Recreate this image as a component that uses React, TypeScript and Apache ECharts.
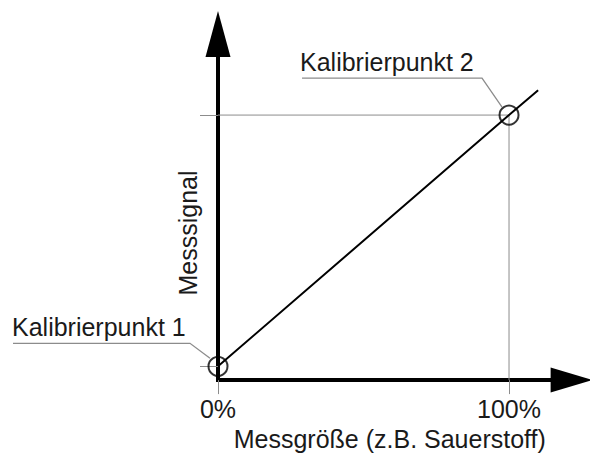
import React, { useEffect, useRef } from 'react';
import * as echarts from 'echarts';

// ---- data ----
const xTickValues = [0, 100];
const xTickSuffix = '%';
const xRange = [0, 121.5];
const yRange = [0, 125.4];
const calX = [0, 100];
const calY = [5, 96];
const calLabels = ['Kalibrierpunkt 1', 'Kalibrierpunkt 2'];
const lineX = [0, 100, 110];
const lineY = [5, 96, 105];
const xName = 'Messgröße (z.B. Sauerstoff)';
const yName = 'Messsignal';

const FONT = '"Liberation Sans", Arial, Helvetica, sans-serif';
const TEXT = '#1a1a1a';
const GREY = '#8c8c8c';

// annotation layout offsets relative to each calibration point (pixels)
const annLayout = [
  { textDx: -206, baseDy: -31, uStart: -205, uEnd: -28, uDy: -23, tipDx: -8, tipDy: -8 },
  { textDx: -209, baseDy: -44, uStart: -207, uEnd: -27, uDy: -37, tipDx: -7, tipDy: -8 },
];

export default function App() {
  const ref = useRef<HTMLDivElement>(null);
  useEffect(() => {
    if (!ref.current) return;
    const chart = echarts.init(ref.current, null, { renderer: 'svg' });
    const calPoints = calX.map((x, i) => [x, calY[i]]);
    const linePoints = lineX.map((x, i) => [x, lineY[i]]);
    const last = calPoints.length - 1;
    const dropPoints = [
      [xRange[0], calY[last]],
      [calX[last], calY[last]],
      [calX[last], yRange[0]],
    ];
    chart.setOption({
      animation: false,
      backgroundColor: '#fff',
      textStyle: { fontFamily: FONT },
      grid: { left: 218, right: 18.4, top: 33.9, bottom: 71, containLabel: false },
      xAxis: {
        type: 'value',
        min: xRange[0],
        max: xRange[1],
        name: xName,
        nameLocation: 'middle',
        nameGap: 45,
        nameTextStyle: { fontSize: 25, color: TEXT, fontFamily: FONT, padding: [0, 10, 0, 0] },
        splitLine: { show: false },
        axisLine: {
          show: true,
          symbol: ['none', 'triangle'],
          symbolSize: [25, 42],
          lineStyle: { color: '#000', width: 4, cap: 'square' },
        },
        axisTick: {
          show: true,
          inside: false,
          length: 14,
          customValues: xTickValues,
          lineStyle: { color: GREY, width: 1 },
        },
        axisLabel: {
          show: true,
          customValues: xTickValues,
          margin: 16,
          fontSize: 25,
          color: TEXT,
          fontFamily: FONT,
          formatter: (v: number) => `${v}${xTickSuffix}`,
        },
      },
      yAxis: {
        type: 'value',
        min: yRange[0],
        max: yRange[1],
        name: yName,
        nameLocation: 'middle',
        nameGap: 18,
        nameTextStyle: { fontSize: 25, color: TEXT, fontFamily: FONT, padding: [0, 52, 0, 0] },
        splitLine: { show: false },
        axisLine: {
          show: true,
          symbol: ['none', 'triangle'],
          symbolSize: [25, 46],
          lineStyle: { color: '#000', width: 4, cap: 'square' },
        },
        axisTick: {
          show: true,
          inside: false,
          length: 18,
          customValues: calY,
          lineStyle: { color: GREY, width: 1 },
        },
        axisLabel: { show: false },
      },
      series: [
        {
          type: 'line',
          data: dropPoints,
          symbol: 'none',
          silent: true,
          lineStyle: { color: GREY, width: 1 },
          z: 1,
        },
        {
          type: 'line',
          data: linePoints,
          symbol: 'none',
          clip: false,
          lineStyle: { color: '#000', width: 2 },
          z: 2,
        },
        {
          type: 'scatter',
          data: calPoints,
          symbol: 'circle',
          symbolSize: 19,
          itemStyle: { color: 'rgba(255,255,255,0)', borderColor: '#000', borderWidth: 2 },
          z: 3,
        },
      ],
    });

    const graphics: any[] = [];
    calPoints.forEach((p, i) => {
      const px = chart.convertToPixel({ gridIndex: 0 }, p) as number[];
      const L = annLayout[i];
      graphics.push({
        type: 'polyline',
        silent: true,
        shape: {
          points: [
            [px[0] + L.uStart, px[1] + L.uDy],
            [px[0] + L.uEnd, px[1] + L.uDy],
            [px[0] + L.tipDx, px[1] + L.tipDy],
          ],
        },
        style: { stroke: GREY, lineWidth: 1.3, fill: null },
        z: 10,
      });
      graphics.push({
        type: 'text',
        silent: true,
        x: px[0] + L.textDx,
        y: px[1] + L.baseDy - 8.7,
        style: {
          text: calLabels[i],
          font: `25px ${FONT}`,
          fill: TEXT,
          textAlign: 'left',
          textVerticalAlign: 'middle',
        },
        z: 10,
      });
    });
    chart.setOption({ graphic: graphics });

    return () => chart.dispose();
  }, []);
  return (
    <div
      ref={ref}
      style={{ position: 'absolute', left: 0, top: 0, width: 590, height: 456 }}
    />
  );
}
